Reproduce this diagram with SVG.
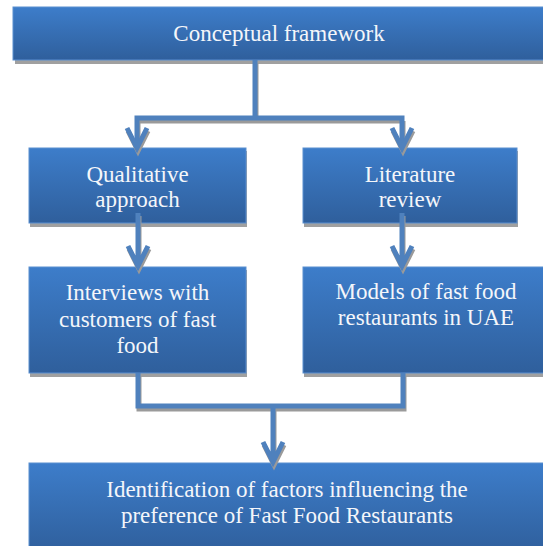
<svg xmlns="http://www.w3.org/2000/svg" width="543" height="546" viewBox="0 0 543 546">
<defs>
<linearGradient id="g" x1="0" y1="0" x2="0" y2="1">
<stop offset="0" stop-color="#3d7dca"/>
<stop offset="1" stop-color="#2f5f9c"/>
</linearGradient>
<style>
.box{fill:url(#g);stroke:#5a8fd0;stroke-width:1}
.sh{fill:#a0a0a0}
.t{font-family:"Liberation Serif","Times New Roman",serif;font-size:23px;fill:#f4f6fa;text-anchor:middle}
.ln{fill:none;stroke:#4f81bd;stroke-width:5;stroke-linejoin:miter;stroke-linecap:butt}
.lsh{fill:none;stroke:#9a9a9a;stroke-width:5;stroke-linejoin:miter}
</style>
</defs>
<rect width="543" height="546" fill="#ffffff"/>

<g id="n-conceptual">
<rect class="sh" x="15" y="10" width="533" height="54"/>
<rect class="box" x="13" y="7" width="533" height="53"/>
<text class="t" x="279" y="41">Conceptual framework</text>
</g>

<g id="n-qualitative">
<rect class="sh" x="30" y="151" width="217" height="76"/>
<rect class="box" x="29" y="148" width="217" height="75"/>
<text class="t" x="137.5" y="182">Qualitative</text>
<text class="t" x="137.5" y="207">approach</text>
</g>

<g id="n-literature">
<rect class="sh" x="304" y="151" width="214" height="76"/>
<rect class="box" x="303" y="148" width="214" height="75"/>
<text class="t" x="410" y="182">Literature</text>
<text class="t" x="410" y="207">review</text>
</g>

<g id="n-interviews">
<rect class="sh" x="30" y="270" width="217" height="107"/>
<rect class="box" x="29" y="267" width="217" height="106"/>
<text class="t" x="137.5" y="300">Interviews with</text>
<text class="t" x="137.5" y="327">customers of fast</text>
<text class="t" x="137.5" y="353">food</text>
</g>

<g id="n-models">
<rect class="sh" x="304" y="270" width="244" height="107"/>
<rect class="box" x="303" y="267" width="244" height="106"/>
<text class="t" x="426" y="299">Models of fast food</text>
<text class="t" x="426" y="325">restaurants in UAE</text>
</g>

<g id="n-identification">
<rect class="box" x="29" y="463" width="518" height="90"/>
<text class="t" x="287" y="497">Identification of factors influencing the</text>
<text class="t" x="287" y="523">preference of Fast Food Restaurants</text>
</g>

<g id="connectors">
<g transform="translate(1,3)">
<path class="lsh" d="M255 60 V118 M137 118 H402 M137 118 V148 M402 118 V148"/>
<path class="lsh" d="M127 128 L137 148 L147 128 M392 128 L402 148 L412 128"/>
<path class="lsh" d="M138 213 V266 M128 246 L138 266 L148 246 M402 213 V266 M392 246 L402 266 L412 246"/>
<path class="lsh" d="M138 373 V406 H403 V373 M273 406 V462 M263 442 L273 462 L283 442"/>
</g>
<path class="ln" d="M255 60 V118 M134.5 118 H404.5 M137 118 V147 M402 118 V147"/>
<path class="ln" d="M127 128 L137 148 L147 128 M392 128 L402 148 L412 128"/>
<path class="ln" d="M138 213 V266 M128 246 L138 266 L148 246 M402 213 V266 M392 246 L402 266 L412 246"/>
<path class="ln" d="M138 373 V406 H403 V373 M273 406 V462 M263 442 L273 462 L283 442"/>
</g>
</svg>
